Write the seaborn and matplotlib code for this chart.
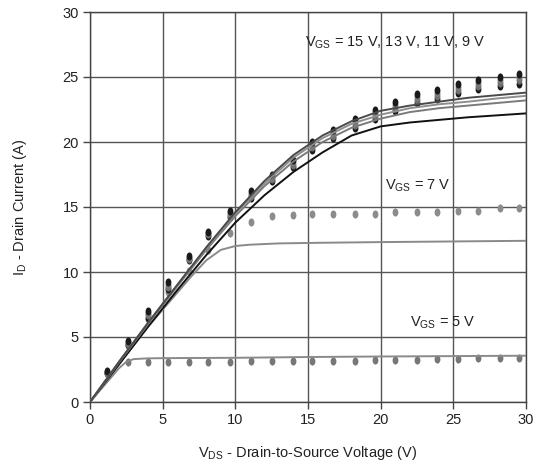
import matplotlib
matplotlib.use('Agg')
import matplotlib.pyplot as plt
import seaborn as sns
from matplotlib.path import Path
from matplotlib.transforms import Affine2D

# model curves (V_DS in V, I_D in A)
vds_hi = [0, 2, 4, 6, 8, 10, 12, 14, 16, 18, 20, 22, 24, 26, 28, 30]
id_15v = [0, 3.1, 6.1, 9.0, 11.9, 14.6, 17.0, 19.0, 20.5, 21.6, 22.4, 22.8, 23.1, 23.4, 23.6, 23.8]
id_13v = [0, 3.1, 6.1, 9.0, 11.8, 14.5, 16.8, 18.8, 20.3, 21.4, 22.1, 22.6, 22.9, 23.1, 23.35, 23.55]
id_11v = [0, 3.05, 6.0, 8.9, 11.7, 14.3, 16.6, 18.5, 20.0, 21.1, 21.8, 22.3, 22.6, 22.8, 23.0, 23.2]
id_9v = [0, 2.9, 5.8, 8.6, 11.3, 13.8, 15.9, 17.7, 19.2, 20.5, 21.2, 21.5, 21.7, 21.9, 22.05, 22.2]

vds_7v = [0, 2, 4, 5, 6, 7, 8, 9, 10, 11, 13, 16, 20, 25, 30]
id_7v = [0, 2.9, 5.8, 7.1, 8.4, 9.7, 10.9, 11.7, 12.0, 12.1, 12.2, 12.25, 12.3, 12.35, 12.4]

vds_5v = [0, 1, 2, 2.5, 3, 4, 6, 10, 15, 20, 25, 30]
id_5v = [0, 1.3, 2.6, 3.1, 3.3, 3.36, 3.38, 3.4, 3.46, 3.5, 3.53, 3.56]

# measured points
vds_meas = [1.2, 2.6, 4.0, 5.35, 6.8, 8.14, 9.66, 11.1, 12.5, 13.95, 15.3,
            16.75, 18.2, 19.6, 21.0, 22.5, 23.9, 25.3, 26.7, 28.2, 29.55]
meas_top = [2.4, 4.7, 7.0, 9.2, 11.2, 13.1, 14.7, 16.2, 17.5, 18.6, 20.0,
            20.9, 21.8, 22.5, 23.1, 23.7, 24.0, 24.5, 24.75, 25.0, 25.2]
meas_bot = [2.2, 4.4, 6.5, 8.7, 10.9, 12.8, 14.2, 15.7, 17.0, 18.1, 19.4,
            20.3, 21.1, 21.8, 22.4, 23.0, 23.3, 23.8, 24.05, 24.3, 24.5]
meas_7v = [2.2, 4.4, 6.4, 8.5, 10.1, 11.7, 13.0, 13.85, 14.3, 14.4, 14.45,
           14.45, 14.5, 14.5, 14.6, 14.6, 14.65, 14.7, 14.7, 14.9, 14.95]
meas_5v = [3.05, 3.1, 3.1, 3.1, 3.1, 3.1, 3.12, 3.12, 3.12, 3.15, 3.15,
           3.17, 3.2, 3.22, 3.25, 3.28, 3.3, 3.35, 3.38, 3.42]

sns.set_style('white')
plt.rcParams['font.family'] = ['Liberation Sans', 'DejaVu Sans']
plt.rcParams['mathtext.default'] = 'regular'

fig = plt.figure(figsize=(5.34, 4.68), dpi=100)
ax = fig.add_axes([90 / 534, 1 - 402 / 468, 436 / 534, 390 / 468])

ell = Path.unit_circle().transformed(Affine2D().scale(0.72, 1.0))

# measured dots, stacked 15/13/11/9 V
m13 = [t - (t - b) / 3 for t, b in zip(meas_top, meas_bot)]
m11 = [t - 2 * (t - b) / 3 for t, b in zip(meas_top, meas_bot)]
dot_kw = dict(marker=ell, s=34, linewidth=0, ax=ax, zorder=3)
sns.scatterplot(x=vds_meas, y=meas_7v, color='#8c8c8c', **dot_kw)
sns.scatterplot(x=vds_meas[1:], y=meas_5v, color='#777777', **dot_kw)
sns.scatterplot(x=vds_meas, y=meas_bot, color='#1a1a1a', **dot_kw)
sns.scatterplot(x=vds_meas, y=m11, color='#6e6e6e', **dot_kw)
sns.scatterplot(x=vds_meas, y=m13, color='#7a7a7a', **dot_kw)
sns.scatterplot(x=vds_meas, y=meas_top, color='#1a1a1a', **dot_kw)

line_kw = dict(ax=ax, sort=False, estimator=None, linewidth=1.4, zorder=4)
sns.lineplot(x=vds_5v, y=id_5v, color='#8a8a8a', **line_kw)
sns.lineplot(x=vds_7v, y=id_7v, color='#8a8a8a', **line_kw)
sns.lineplot(x=vds_hi, y=id_9v, color='#111111', **line_kw)
sns.lineplot(x=vds_hi, y=id_11v, color='#7a7a7a', **line_kw)
sns.lineplot(x=vds_hi, y=id_13v, color='#8e8e8e', **line_kw)
sns.lineplot(x=vds_hi, y=id_15v, color='#4a4a4a', **line_kw)

ax.set_xlim(0, 30)
ax.set_ylim(0, 30)
ax.set_xticks(range(0, 31, 5))
ax.set_yticks(range(0, 31, 5))
ax.grid(True, color='#555555', linewidth=1.0)
ax.set_axisbelow(True)
for sp in ax.spines.values():
    sp.set_color('#444444')
    sp.set_linewidth(1.0)
ax.tick_params(axis='both', direction='out', length=5, width=1.0, color='#444444',
               labelsize=10.5, labelcolor='#222222', pad=3, bottom=True, left=True)

ax.set_xlabel('V$_{DS}$ - Drain-to-Source Voltage (V)', fontsize=10.5, color='#222222', labelpad=12)
ax.set_ylabel('I$_{D}$ - Drain Current (A)', fontsize=10.5, color='#222222', labelpad=24)

txt_kw = dict(fontsize=10.5, color='#222222', va='center', ha='left', zorder=5)
ax.text(14.8, 27.6, 'V$_{GS}$ = 15 V, 13 V, 11 V, 9 V', **txt_kw)
ax.text(20.3, 16.6, 'V$_{GS}$ = 7 V', **txt_kw)
ax.text(22.0, 6.1, 'V$_{GS}$ = 5 V', **txt_kw)

fig.savefig('out.png', dpi=100)
plt.close(fig)
